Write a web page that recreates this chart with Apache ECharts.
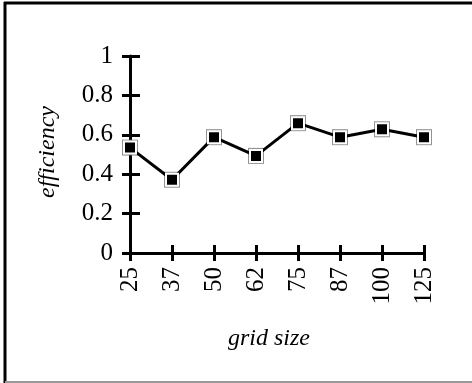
<!DOCTYPE html>
<html>
<head>
<meta charset="utf-8">
<script src="https://cdn.jsdelivr.net/npm/echarts@6/dist/echarts.min.js"></script>
<style>
html,body{margin:0;padding:0;background:#fff;}
#chart{width:472px;height:383px;}
</style>
</head>
<body>
<div id="chart"></div>
<script>
var categories = ['25', '37', '50', '62', '75', '87', '100', '125'];
var efficiency = [0.535, 0.372, 0.588, 0.493, 0.659, 0.588, 0.628, 0.588];
var yTicks = [0, 0.2, 0.4, 0.6, 0.8, 1];
var xTitle = 'grid size';
var yTitle = 'efficiency';

var chart = echarts.init(document.getElementById('chart'), null, {renderer: 'canvas'});
var serif = "'Liberation Serif', 'Times New Roman', serif";
var grid = {left: 130, right: 48, top: 56, bottom: 130};

var option = {
  animation: false,
  backgroundColor: '#fff',
  grid: grid,
  xAxis: [{
    type: 'category', data: categories, boundaryGap: false,
    axisLine: {lineStyle: {color: '#000', width: 3}},
    axisTick: {show: true, inside: false, length: 8, lineStyle: {color: '#000', width: 3}},
    axisLabel: {rotate: 90, margin: 14, color: '#000', fontFamily: serif, fontSize: 25},
    splitLine: {show: false}
  }, {
    type: 'category', data: categories, boundaryGap: false, position: 'bottom',
    axisLine: {show: false},
    axisTick: {show: true, inside: true, length: 8, lineStyle: {color: '#000', width: 3}},
    axisLabel: {show: false},
    splitLine: {show: false}
  }],
  yAxis: [{
    type: 'value', min: yTicks[0], max: yTicks[yTicks.length - 1], interval: 0.2,
    axisLine: {show: true, lineStyle: {color: '#000', width: 3}},
    axisTick: {show: true, inside: false, length: 8, lineStyle: {color: '#000', width: 3}},
    axisLabel: {margin: 17, color: '#000', fontFamily: serif, fontSize: 25,
      formatter: function (v) { return String(Math.round(v * 10) / 10); }},
    splitLine: {show: false}
  }, {
    type: 'value', min: yTicks[0], max: yTicks[yTicks.length - 1], interval: 0.2, position: 'left',
    axisLine: {show: false},
    axisTick: {show: true, inside: true, length: 10, lineStyle: {color: '#000', width: 3}},
    axisLabel: {show: false},
    splitLine: {show: false}
  }],
  graphic: [
    {type: 'line', shape: {x1: 5, y1: 2, x2: 5, y2: 383}, style: {stroke: '#000', lineWidth: 3}},
    {type: 'line', shape: {x1: 4, y1: 3, x2: 472, y2: 3}, style: {stroke: '#000', lineWidth: 3}},
    {type: 'line', shape: {x1: 5, y1: 382, x2: 472, y2: 382}, style: {stroke: '#999', lineWidth: 2}},
    {type: 'text', x: 269, y: 339, style: {text: xTitle, fill: '#000', font: "italic 24px 'Liberation Serif', serif", textAlign: 'center', textVerticalAlign: 'middle'}},
    {type: 'text', x: 48, y: 152, rotation: Math.PI / 2, style: {text: yTitle, fill: '#000', font: "italic 24px 'Liberation Serif', serif", textAlign: 'center', textVerticalAlign: 'middle'}}
  ],
  series: [{
    type: 'scatter', data: efficiency, z: 3,
    symbol: 'rect', symbolSize: 16,
    itemStyle: {color: '#777'},
    silent: true
  }, {
    type: 'line', data: efficiency, z: 4,
    symbol: 'rect', symbolSize: 12, showSymbol: true,
    lineStyle: {color: '#000', width: 3},
    itemStyle: {color: '#000', borderColor: '#fff', borderWidth: 2, opacity: 1}
  }]
};
chart.setOption(option);
</script>
</body>
</html>
